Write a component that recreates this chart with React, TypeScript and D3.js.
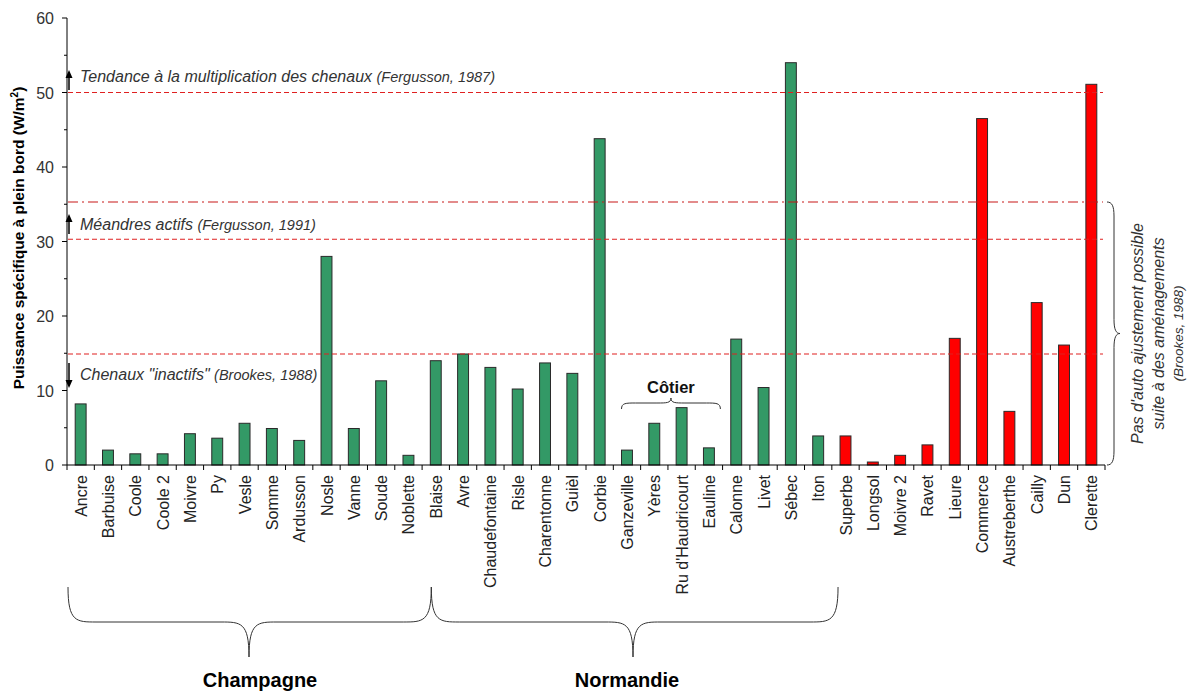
import React from "react";
import * as d3 from "d3";

const categories = [
  "Ancre","Barbuise","Coole","Coole 2","Moivre","Py","Vesle","Somme","Ardusson","Nosle","Vanne","Soude","Noblette",
  "Blaise","Avre","Chaudefontaine","Risle","Charentonne","Guièl","Corbie","Ganzeville","Yères","Ru d'Haudricourt","Eauline",
  "Calonne","Livet","Sébec","Iton",
  "Superbe","Longsol","Moivre 2","Ravet","Lieure","Commerce","Austreberthe","Cailly","Dun","Clerette",
];
const values = [
  8.2,2.0,1.5,1.5,4.2,3.6,5.6,4.9,3.3,28.0,4.9,11.3,1.3,
  14.0,14.9,13.1,10.2,13.7,12.3,43.8,2.0,5.6,7.7,2.3,
  16.9,10.4,54.0,3.9,
  3.9,0.4,1.3,2.7,17.0,46.5,7.2,21.8,16.1,51.1,
];
// true = aménagé (red)
const modified = categories.map((_, i) => i >= 28);
const yTicks = [0, 10, 20, 30, 40, 50, 60];
const minorTicks = [5, 15, 25, 35, 45, 55];
const thresholds = [
  { v: 50, dash: "5,3", color: "#e02020" },
  { v: 35.3, dash: "10,4,2,4", color: "#c81818" },
  { v: 30.3, dash: "5,3", color: "#e02020" },
  { v: 14.9, dash: "5,3", color: "#e02020" },
];

const FONT = "'Liberation Sans', Arial, sans-serif";

export default function App() {
  const left = 67, right = 1105, top = 18, bottom = 465;
  const x = d3.scaleBand<string>().domain(categories).range([left, right]).paddingInner(0.6).paddingOuter(0.3);
  const y = d3.scaleLinear().domain([0, 60]).range([bottom, top]);
  const step = x.step();
  const bw = x.bandwidth();

  const bracePath = (x0: number, x1: number, yTop: number, depth: number, tipDepth: number, xm: number, r: number) => {
    const yFlat = yTop + depth;
    const yTip = yFlat + tipDepth;
    return `M${x0},${yTop} C${x0},${yFlat} ${x0 + r * 0.3},${yFlat} ${x0 + r},${yFlat} L${xm - r},${yFlat} C${xm - r * 0.3},${yFlat} ${xm},${yFlat} ${xm},${yTip} C${xm},${yFlat} ${xm + r * 0.3},${yFlat} ${xm + r},${yFlat} L${x1 - r},${yFlat} C${x1 - r * 0.3},${yFlat} ${x1},${yFlat} ${x1},${yTop}`;
  };

  const champX0 = left + 1;
  const champX1 = x("Blaise")! + 1;
  const normX1 = x("Superbe")! - 2;
  const cotX0 = x("Ganzeville")!;
  const cotX1 = x("Eauline")! + bw + 6;

  const rY0 = y(35.3), rY1 = y(0);
  const rYm = (rY0 + rY1) / 2;
  const rightBrace = `M1107,${rY0} C1112,${rY0} 1114,${rY0 + 4} 1114,${rY0 + 14} L1114,${rYm - 14} C1114,${rYm - 4} 1116,${rYm} 1120,${rYm} C1116,${rYm} 1114,${rYm + 4} 1114,${rYm + 14} L1114,${rY1 - 14} C1114,${rY1 - 4} 1112,${rY1} 1107,${rY1}`;

  const arrow = (x0: number, y0: number, y1: number) => {
    const dir = y1 < y0 ? 1 : -1;
    return (
      <g>
        <line x1={x0} y1={y0} x2={x0} y2={y1 + dir * 5} stroke="#000" strokeWidth={1.5} />
        <path d={`M${x0 - 3.5},${y1 + dir * 8} L${x0},${y1} L${x0 + 3.5},${y1 + dir * 8} Z`} fill="#000" />
      </g>
    );
  };

  return (
    <svg width={1190} height={693} style={{ position: "absolute", left: 0, top: 0, background: "#fff" }} fontFamily={FONT}>
      <rect width={1190} height={693} fill="#fff" />
      {/* bars */}
      {categories.map((c, i) => (
        <rect key={c} x={x(c)} y={y(values[i])} width={bw} height={y(0) - y(values[i])}
          fill={modified[i] ? "#ff0000" : "#339966"} stroke="#2a2a2a" strokeWidth={1} />
      ))}
      {/* thresholds */}
      {thresholds.map((t) => (
        <line key={t.v} x1={left + 1} x2={right - 2} y1={y(t.v)} y2={y(t.v)} stroke={t.color} strokeWidth={1.2} strokeDasharray={t.dash} />
      ))}
      {/* y axis */}
      <line x1={left} x2={left} y1={top} y2={bottom} stroke="#000" strokeWidth={1} />
      {yTicks.map((t) => (
        <g key={t}>
          <line x1={left - 5} x2={left} y1={y(t)} y2={y(t)} stroke="#000" />
          <text x={left - 13} y={y(t) + 6} textAnchor="end" fontSize={16} fill="#333">{t}</text>
        </g>
      ))}
      {minorTicks.map((t) => (
        <line key={t} x1={left - 3} x2={left} y1={y(t)} y2={y(t)} stroke="#000" />
      ))}
      <text transform={`translate(24,${238}) rotate(-90)`} textAnchor="middle" fontSize={15.5} fontWeight="bold" fill="#000">
        Puissance spécifique à plein bord (W/m<tspan dy={-6} fontSize={10}>2</tspan><tspan dy={6}>)</tspan>
      </text>
      {/* x axis */}
      <line x1={left} x2={right} y1={bottom} y2={bottom} stroke="#000" />
      {d3.range(categories.length + 1).map((i) => (
        <line key={i} x1={left + i * step} x2={left + i * step} y1={bottom} y2={bottom + 5} stroke="#000" />
      ))}
      {categories.map((c) => (
        <text key={c} transform={`translate(${x(c)! + bw / 2 + 6},${bottom + 10}) rotate(-90)`} textAnchor="end" fontSize={16} fill="#222">{c}</text>
      ))}
      {/* annotations */}
      {arrow(69, 90, 70)}
      <text x={80} y={82} fontSize={16} fontStyle="italic" fill="#333">
        Tendance à la multiplication des chenaux <tspan fontSize={14.5}>(Fergusson, 1987)</tspan>
      </text>
      {arrow(69, 234, 214)}
      <text x={80} y={230} fontSize={16} fontStyle="italic" fill="#333">
        Méandres actifs <tspan fontSize={14.5}>(Fergusson, 1991)</tspan>
      </text>
      {arrow(69, 363, 388)}
      <text x={80} y={380} fontSize={16} fontStyle="italic" fill="#333">
        Chenaux "inactifs" <tspan fontSize={14.5}>(Brookes, 1988)</tspan>
      </text>
      {/* Côtier brace */}
      <path d={bracePath(cotX0, cotX1, 409, -6, -5, (cotX0 + cotX1) / 2, 14)} fill="none" stroke="#333" strokeWidth={1} />
      <text x={(cotX0 + cotX1) / 2} y={393} textAnchor="middle" fontSize={16.5} fontWeight="bold" fill="#111">Côtier</text>
      {/* right brace */}
      <path d={rightBrace} fill="none" stroke="#333" strokeWidth={1} />
      <text transform={`translate(1143,${rYm}) rotate(-90)`} textAnchor="middle" fontSize={16} fontStyle="italic" fill="#333">Pas d'auto ajustement possible</text>
      <text transform={`translate(1164,${rYm}) rotate(-90)`} textAnchor="middle" fontSize={16} fontStyle="italic" fill="#333">suite à des aménagements</text>
      <text transform={`translate(1183,${rYm}) rotate(-90)`} textAnchor="middle" fontSize={13.5} fontStyle="italic" fill="#333">(Brookes, 1988)</text>
      {/* bottom braces */}
      <path d={bracePath(champX0, champX1, 587, 35, 35, 249, 28)} fill="none" stroke="#333" strokeWidth={1} />
      <path d={bracePath(champX1, normX1, 587, 35, 35, 633, 28)} fill="none" stroke="#333" strokeWidth={1} />
      <text x={260} y={687} textAnchor="middle" fontSize={20} fontWeight="bold" fill="#000">Champagne</text>
      <text x={627} y={687} textAnchor="middle" fontSize={20} fontWeight="bold" fill="#000">Normandie</text>
    </svg>
  );
}
